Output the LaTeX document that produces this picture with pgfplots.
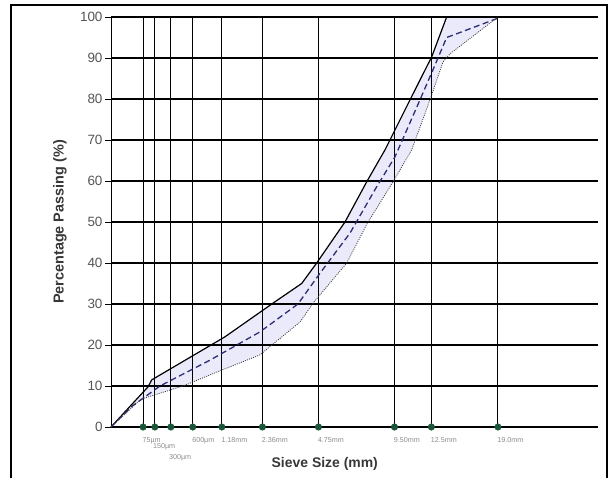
\documentclass[border=0pt]{standalone}
\usepackage{fontspec}
\setmainfont{Liberation Sans}
\usepackage{pgfplots}
\pgfplotsset{compat=1.18}
\definecolor{fillc}{RGB}{234,234,250}
\definecolor{navy}{RGB}{45,45,115}
\definecolor{dgreen}{RGB}{25,85,55}
\definecolor{tickgray}{RGB}{85,85,85}
\definecolor{labgray}{RGB}{55,55,55}
\definecolor{smallgray}{RGB}{140,140,140}
\begin{document}
\begin{tikzpicture}
\draw[line width=2bp] (11bp,-3bp) -- (11bp,473bp) -- (607bp,473bp) -- (607bp,-3bp);
\begin{axis}[
  set layers,
  at={(111bp,51bp)}, anchor=south west,
  scale only axis, width=487bp, height=410bp,
  xmin=0, xmax=4.733, ymin=0, ymax=100,
  axis x line=bottom, axis y line=left,
  axis line style={-},
  x axis line style={line width=2bp, black},
  y axis line style={line width=0.8bp, black},
  xtick={0.3117,0.4261,0.5818,0.7946,1.0773,1.4714,2.0161,2.7549,3.1135,3.7605},
  xticklabels={75µm,,,600µm,1.18mm,2.36mm,4.75mm,9.50mm,12.5mm,19.0mm},
  x tick style={draw=none},
  xticklabel style={anchor=north west, xshift=-4bp, yshift=-1bp, font=\fontsize{7.2}{7.2}\selectfont, text=smallgray},
  ytick={0,10,...,100},
  y tick style={black, line width=0.8bp},
  tick align=outside,
  major tick length=6bp,
  yticklabel style={font=\fontsize{13.5}{13.5}\selectfont, text=tickgray, xshift=1bp},
  /pgf/number format/assume math mode=true,
  xmajorgrids, ymajorgrids,
  major x grid style={black, line width=0.9bp},
  major y grid style={black, line width=2bp},
  ylabel={\bfseries Percentage Passing (\%)},
  ylabel style={at={(axis description cs:-0.105,0.5)}, anchor=center, rotate=0, font=\fontsize{14.5}{15}\selectfont, text=labgray},
  xlabel={\bfseries Sieve Size (mm)},
  xlabel style={at={(axis description cs:0.439,-0.090)}, anchor=center, font=\fontsize{14}{15}\selectfont, text=labgray},
  clip=false,
]
% envelope fill
\addplot[on layer=axis background, fill=fillc, draw=none] coordinates {
  (0,0) (0.360,9.8) (0.396,11.5) (1.108,22) (1.574,30.2) (1.853,35) (1.999,40)
  (2.274,50) (2.485,59.8) (2.663,67.6) (2.906,79.8) (3.117,90.3) (3.262,100)
  (3.7605,100)
  (3.294,91) (3.226,89) (3.100,79.8) (2.922,67.6) (2.741,59.8) (2.498,50)
  (2.291,40) (1.963,30.2) (1.837,25.6) (1.448,17.6) (1.059,13.7) (0.700,10)
  (0.292,6.8) (0,0)
};
% upper limit (solid)
\addplot[black, line width=1.2bp] coordinates {
  (0,0) (0.360,9.8) (0.396,11.5) (1.108,22) (1.574,30.2) (1.853,35) (1.999,40)
  (2.274,50) (2.485,59.8) (2.663,67.6) (2.906,79.8) (3.117,90.3) (3.262,100)
};
% mid grading (dashed)
\addplot[navy, line width=1.3bp, dash pattern=on 6bp off 3.5bp] coordinates {
  (0,0) (0.201,5) (0.476,10) (0.962,16.3) (1.448,23.2) (1.817,30) (2.031,37.5)
  (2.323,47.3) (2.582,58.6) (2.760,65.9) (3.003,79.8) (3.149,88.3) (3.262,95)
  (3.7605,99.7)
};
% lower limit (dotted)
\addplot[black!75, line width=0.8bp, dash pattern=on 1bp off 1.2bp] coordinates {
  (0,0) (0.292,6.8) (0.700,10) (1.059,13.7) (1.448,17.6) (1.837,25.6) (1.963,30.2)
  (2.291,40) (2.498,50) (2.741,59.8) (2.922,67.6) (3.100,79.8) (3.226,89)
  (3.294,91) (3.7605,100)
};
% sieve markers
\addplot[only marks, mark=*, mark size=3.3bp, dgreen] coordinates {
  (0.3117,0) (0.4261,0) (0.5818,0) (0.7946,0) (1.0773,0) (1.4714,0)
  (2.0161,0) (2.7549,0) (3.1135,0) (3.7605,0)
};
\node[anchor=north west, font=\fontsize{7.2}{7.2}\selectfont, text=smallgray, inner sep=1bp, xshift=-3bp, yshift=-15bp] at (axis cs:0.4261,0) {150µm};
\node[anchor=north west, font=\fontsize{7.2}{7.2}\selectfont, text=smallgray, inner sep=1bp, xshift=-3bp, yshift=-26bp] at (axis cs:0.5818,0) {300µm};
\end{axis}
\pgfresetboundingbox
\useasboundingbox (0,0) rectangle (612bp,478bp);
\end{tikzpicture}
\end{document}
